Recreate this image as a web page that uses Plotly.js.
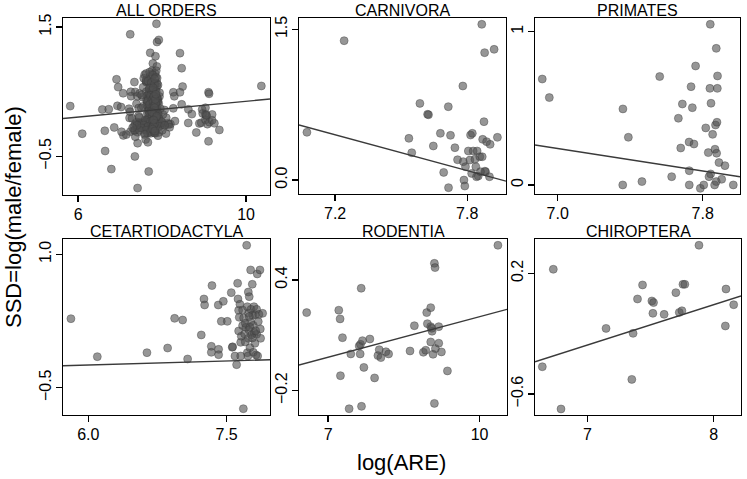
<!DOCTYPE html>
<html>
<head>
<meta charset="utf-8">
<script src="https://cdn.plot.ly/plotly-3.0.1.min.js"></script>
<style>html,body{margin:0;padding:0;background:#fff}#plot{width:747px;height:479px}</style>
</head>
<body>
<div id="plot"></div>
<script>
// ---------- DATA ----------
var panelTitles = ["ALL ORDERS", "CARNIVORA", "PRIMATES", "CETARTIODACTYLA", "RODENTIA", "CHIROPTERA"];

var carnX = [7.072,7.241,7.535,7.548,7.585,7.620,7.624,7.646,7.678,7.693,7.714,7.715,7.724,7.744,7.756,7.780,7.782,7.785,7.789,7.792,7.805,7.812,7.815,7.823,7.820,7.827,7.835,7.839,7.845,7.850,7.857,7.866,7.868,7.870,7.876,7.879,7.883,7.880,7.888,7.901,7.904,7.922,7.937,7.842,7.860];
var carnY = [0.475,1.387,0.415,0.272,0.763,0.654,0.650,0.339,0.465,0.076,0.730,-0.076,0.445,0.322,0.202,0.936,0.183,0.000,-0.060,0.133,0.289,0.199,0.448,0.465,0.066,0.289,0.206,0.133,0.289,0.040,0.232,1.550,0.232,0.405,0.581,1.268,0.083,0.088,0.382,0.033,0.355,1.301,0.425,0.033,0.083];

var primX = [6.915,6.954,7.359,7.360,7.390,7.465,7.563,7.629,7.666,7.679,7.688,7.725,7.726,7.726,7.736,7.743,7.752,7.761,7.787,7.806,7.817,7.831,7.842,7.840,7.846,7.844,7.855,7.835,7.866,7.868,7.871,7.875,7.875,7.879,7.881,7.882,7.877,7.890,7.905,7.923,7.969];
var primY = [0.691,0.570,0.000,0.496,0.311,0.022,0.707,0.054,0.435,0.241,0.528,0.280,0.093,0.000,0.641,0.504,0.267,0.776,-0.022,0.000,0.372,0.211,1.048,0.630,0.533,0.072,0.330,0.054,0.000,0.233,0.391,0.891,0.022,0.409,0.630,0.711,0.207,0.146,0.037,0.126,0.000];

var cetX = [5.812,6.098,6.636,6.860,6.936,7.023,7.077,7.225,7.254,7.261,7.334,7.334,7.341,7.409,7.413,7.413,7.442,7.464,7.507,7.550,7.561,7.565,7.590,7.608,7.619,7.623,7.630,7.630,7.637,7.644,7.652,7.652,7.659,7.673,7.673,7.681,7.684,7.695,7.702,7.709,7.717,7.724,7.724,7.731,7.735,7.738,7.742,7.745,7.753,7.760,7.760,7.764,7.771,7.778,7.782,7.789,7.789,7.796,7.800,7.807,7.811,7.818,7.825,7.825,7.832,7.836,7.843,7.850,7.861,7.865,7.868,7.890,7.702,7.735,7.752,7.780,7.815,7.745];
var cetY = [0.276,-0.151,-0.106,-0.054,0.280,0.261,-0.177,0.093,0.498,0.430,-0.035,-0.102,0.648,0.430,-0.069,-0.129,0.246,0.471,0.246,0.569,-0.046,-0.040,-0.144,-0.241,0.674,0.498,0.370,0.138,0.291,0.438,-0.144,0.010,0.078,0.374,0.198,-0.736,0.284,0.104,0.014,0.179,1.101,0.411,-0.106,-0.144,0.576,0.336,0.149,0.524,-0.050,0.824,0.239,0.381,0.093,0.663,0.318,0.201,-0.102,0.411,0.119,-0.001,0.321,-0.132,0.381,0.100,0.779,-0.144,0.243,0.325,0.824,0.160,0.055,0.336,0.224,0.055,0.180,0.060,0.140,0.300];

var rodX = [6.576,7.212,7.238,7.245,7.285,7.417,7.450,7.616,7.636,7.642,7.656,7.662,7.682,7.709,7.828,7.921,7.987,8.013,8.046,8.146,8.199,8.623,8.709,8.887,8.934,8.954,8.967,9.033,9.033,9.033,9.060,9.079,9.106,9.106,9.119,9.126,9.192,9.192,9.245,9.364,10.364,9.053];
var rodY = [0.223,0.236,0.189,-0.119,0.087,-0.298,-0.001,0.042,-0.001,0.051,0.355,-0.285,0.071,-0.074,0.080,-0.131,-0.010,0.022,-0.021,0.011,-0.001,0.015,0.152,0.008,0.019,0.223,0.163,0.250,0.147,0.064,0.122,-0.003,0.490,-0.269,0.467,0.028,0.147,0.057,0.010,-0.093,0.588,0.138];

var chirX = [6.643,6.730,6.791,7.148,7.352,7.362,7.397,7.437,7.511,7.519,7.524,7.608,7.701,7.728,7.749,7.757,7.772,7.884,8.093,8.098,8.159];
var chirY = [-0.419,0.227,-0.699,-0.165,-0.503,-0.198,0.030,0.123,0.017,-0.065,0.006,-0.072,0.072,-0.059,-0.048,0.127,0.127,0.386,-0.149,0.096,-0.008];

// species of the remaining orders (shown only in ALL ORDERS)
var otherX = [8.426,8.466,8.489,8.267,8.426,8.291,8.267,8.466,8.625,8.307,8.815,7.416,7.455,7.352,7.034,7.511,8.180,8.020,8.060,
  7.620,7.705,7.781,7.853,7.664,7.742,7.818,7.903,7.697,7.776,7.862,7.941,7.722,7.803,7.884,7.758,7.841,7.918,7.703,7.784,7.866,7.958,7.744,7.823,7.902,7.681,7.762,7.845,7.921,7.602,7.721,7.797,7.884,7.979,7.563,7.662,7.759,7.861,7.939,7.502,7.618,7.723,7.822,7.463,7.581,7.902,8.004,8.063,7.402,7.298,
  7.790,7.812,7.835,7.808,7.852,7.771,7.829,7.795,7.846,7.817,7.760,7.874,7.803,7.838,7.786,7.822,7.851,7.799,7.773,7.827];
var otherY = [1.096,0.863,0.578,0.490,0.490,0.428,0.241,0.303,0.226,0.044,-0.132,-0.992,0.101,-0.096,-0.121,0.448,-0.052,0.148,0.215,
  0.781,0.803,0.758,0.722,0.664,0.638,0.619,0.603,0.552,0.521,0.498,0.482,0.441,0.418,0.402,0.361,0.339,0.318,0.302,0.281,0.259,0.238,0.201,0.182,0.158,0.139,0.121,0.098,0.081,0.062,0.041,0.019,0.002,0.038,-0.018,-0.041,-0.062,-0.081,-0.039,-0.061,-0.098,-0.121,-0.139,-0.098,-0.162,-0.181,-0.098,-0.021,-0.019,-0.058,
  0.350,0.280,0.210,0.150,0.100,0.050,0.010,-0.030,0.320,0.250,0.180,0.120,0.430,0.380,0.560,0.700,0.460,0.060,-0.080,-0.110];

// fitted regression lines: [intercept, slope] per panel
var lineIntercept = [-0.259, 4.727, 1.519, -0.425, -0.532, -2.144];
var lineSlope = [0.061, -0.594, -0.183, 0.030, 0.0733, 0.267];

// tick values / labels
var xTickVals = [[6,10],[7.2,7.8],[7.0,7.8],[6.0,7.5],[7,10],[7,8]];
var xTickText = [["6","10"],["7.2","7.8"],["7.0","7.8"],["6.0","7.5"],["7","10"],["7","8"]];
var yTickVals = [[-0.5,1.5],[0.0,1.5],[0,1],[-0.5,1.0],[-0.2,0.4],[-0.6,0.2]];
var yTickText = [["\u22120.5","1.5"],["0.0","1.5"],["0","1"],["\u22120.5","1.0"],["\u22120.2","0.4"],["\u22120.6","0.2"]];

// ---------- BUILD ----------
var W = 747, H = 479;
var boxes = [ // pixel boxes [left, right, top, bottom]
  [63,270,18,195],[299,506,18,194],[535,740,18,194],
  [63,270,239,415],[299,507,239,415],[535,741,239,415]
];
var xRanges = [[5.64,10.57],[7.036,7.976],[6.875,8.006],[5.726,7.97],[6.424,10.544],[6.585,8.217]];
var yRanges = [[-1.10,1.64],[-0.139,1.613],[-0.059,1.089],[-0.807,1.172],[-0.332,0.622],[-0.739,0.4275]];

var allX = carnX.concat(primX, cetX, rodX, chirX, otherX);
var allY = carnY.concat(primY, cetY, rodY, chirY, otherY);
var seriesX = [allX, carnX, primX, cetX, rodX, chirX];
var seriesY = [allY, carnY, primY, cetY, rodY, chirY];

var font = "Liberation Sans, Arial, sans-serif";
var traces = [];
var layout = {
  width: W, height: H,
  margin: {l:0, r:0, t:0, b:0},
  paper_bgcolor: "#fff", plot_bgcolor: "#fff",
  showlegend: false,
  font: {family: font, color: "#000", size: 16},
  annotations: []
};

for (var i = 0; i < 6; i++) {
  var sfx = i === 0 ? "" : String(i + 1);
  var xa = "x" + sfx, ya = "y" + sfx;
  traces.push({
    type: "scatter", mode: "markers", x: seriesX[i], y: seriesY[i],
    xaxis: xa, yaxis: ya, hoverinfo: "skip",
    marker: {size: 8, color: "rgba(80,80,80,0.6)", line: {width: 0.8, color: "rgba(60,60,60,0.5)"}}
  });
  var xr = xRanges[i];
  traces.push({
    type: "scatter", mode: "lines",
    x: [xr[0], xr[1]],
    y: [lineIntercept[i] + lineSlope[i] * xr[0], lineIntercept[i] + lineSlope[i] * xr[1]],
    xaxis: xa, yaxis: ya, hoverinfo: "skip",
    line: {color: "#3a3a3a", width: 1.4}
  });
  var b = boxes[i];
  var common = {
    showline: true, linecolor: "#000", linewidth: 1.3, mirror: true,
    ticks: "outside", ticklen: 6, tickwidth: 1.3, tickcolor: "#000",
    showgrid: false, zeroline: false,
    tickfont: {family: font, size: 16, color: "#000"},
    tickmode: "array", fixedrange: true
  };
  layout["xaxis" + sfx] = Object.assign({}, common, {
    domain: [b[0] / W, b[1] / W], range: xr, anchor: ya,
    tickvals: xTickVals[i], ticktext: xTickText[i], ticklabelstandoff: -2
  });
  layout["yaxis" + sfx] = Object.assign({}, common, {
    domain: [1 - b[3] / H, 1 - b[2] / H], range: yRanges[i], anchor: xa,
    tickvals: yTickVals[i], ticktext: yTickText[i], tickangle: -90, ticklabelstandoff: -2
  });
  layout.annotations.push({
    xref: "paper", yref: "paper",
    x: (b[0] + b[1]) / 2 / W, y: 1 - b[2] / H,
    xanchor: "center", yanchor: "bottom", yshift: -3,
    text: panelTitles[i], showarrow: false,
    font: {family: font, size: 16, color: "#000"}
  });
}

layout.annotations.push({
  xref: "paper", yref: "paper", x: 14 / W, y: 1 - 217 / H,
  xanchor: "center", yanchor: "middle", textangle: -90,
  text: "SSD=log(male/female)", showarrow: false,
  font: {family: font, size: 22, color: "#000"}
});
layout.annotations.push({
  xref: "paper", yref: "paper", x: 401 / W, y: 1 - 462 / H,
  xanchor: "center", yanchor: "middle",
  text: "log(ARE)", showarrow: false,
  font: {family: font, size: 22, color: "#000"}
});

Plotly.newPlot("plot", traces, layout, {staticPlot: true, displayModeBar: false});
</script>
</body>
</html>
